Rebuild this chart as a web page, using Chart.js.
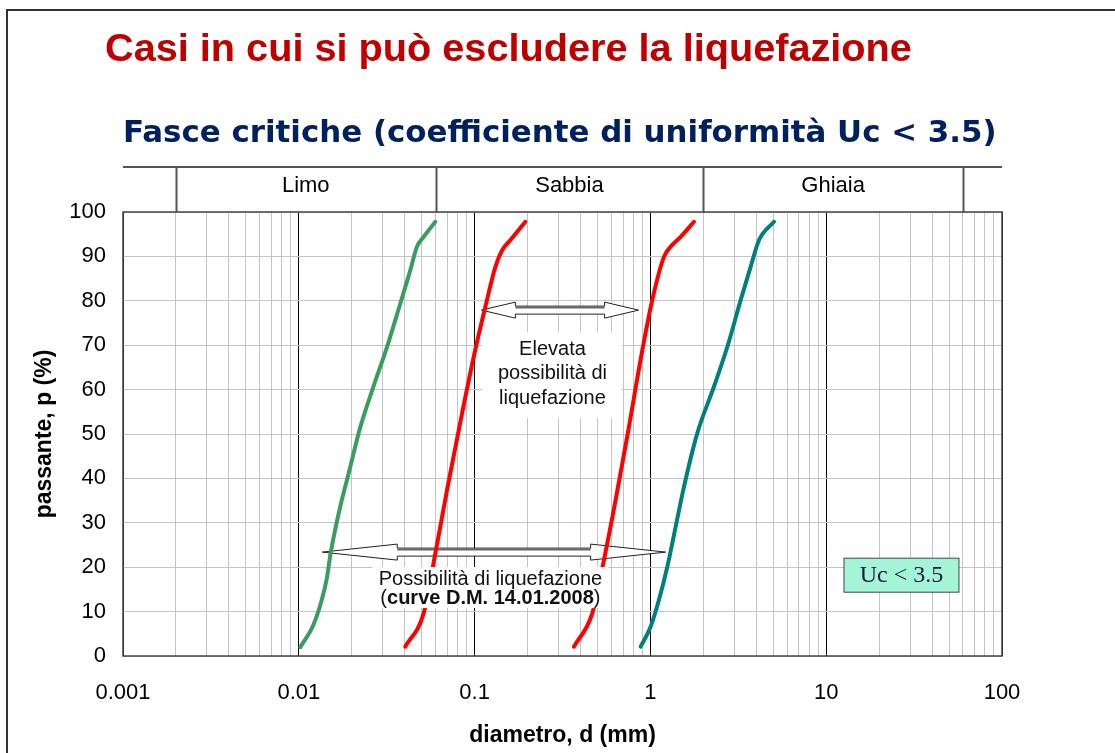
<!DOCTYPE html>
<html>
<head>
<meta charset="utf-8">
<script src="https://cdn.jsdelivr.net/npm/chart.js@4.4.0/dist/chart.umd.min.js"></script>
<style>
  html, body { margin: 0; padding: 0; background: #fff; }
  #wrap { width: 1115px; height: 753px; position: relative; }
</style>
</head>
<body>
<div id="wrap"><canvas id="grafico"></canvas></div>
<script>
// testi
const titleText = 'Casi in cui si può escludere la liquefazione';
const subtitleText = 'Fasce critiche (coefficiente di uniformità Uc < 3.5)';
const xAxisTitle = 'diametro, d (mm)';
const yAxisTitle = 'passante, p (%)';
const xTickLabels = ['0.001', '0.01', '0.1', '1', '10', '100'];
const xDecades = [0.001, 0.01, 0.1, 1, 10];
const xMultipliers = [1, 2, 3, 4, 5, 6, 7, 8, 9];

// fasce granulometriche (mm)
const bandNames = ['Limo', 'Sabbia', 'Ghiaia'];
const bandBounds = [0.002, 0.06, 2, 60];

// curve granulometriche: diametro (mm) / passante (%)
const limoD = [0.0102, 0.0121, 0.0135, 0.0145, 0.0151, 0.0161, 0.0172, 0.0192, 0.0224, 0.0266, 0.0318, 0.0378, 0.0431, 0.047, 0.0513, 0.0598];
const limoP = [2, 7, 12.6, 17.9, 22.7, 28.4, 33.6, 41.1, 51.6, 60.7, 69.7, 79.4, 86.9, 92.2, 94.4, 97.8];

const sabbiaFineD = [0.0403, 0.0513, 0.0598, 0.0697, 0.0849, 0.0989, 0.1152, 0.1314, 0.1434, 0.160, 0.1946];
const sabbiaFineP = [2.1, 9.6, 23.1, 37.4, 54.7, 67.4, 78.7, 87.7, 91.4, 93.7, 97.8];

const sabbiaGrossaD = [0.367, 0.467, 0.544, 0.634, 0.755, 0.879, 1.025, 1.194, 1.303, 1.486, 1.77];
const sabbiaGrossaP = [2.1, 9.6, 21.6, 35.1, 51.6, 66.7, 80.2, 89.9, 92.2, 94.4, 97.8];

const ghiaiaD = [0.880, 1.003, 1.118, 1.248, 1.392, 1.552, 1.849, 2.300, 2.742, 3.264, 3.72, 4.15, 5.05];
const ghiaiaP = [2.1, 6.6, 12.6, 20.1, 29.1, 38.1, 50.2, 60.7, 69.7, 80.2, 87.7, 93.7, 97.8];

const sansFont = '"Liberation Sans", Arial, sans-serif';

function toPoints(ds, ps) {
  return ds.map((d, i) => ({ x: d, y: ps[i] }));
}

function curve(label, ds, ps, color) {
  return {
    label: label,
    data: toPoints(ds, ps),
    borderColor: color,
    borderWidth: 4,
    borderCapStyle: 'round',
    borderJoinStyle: 'round',
    pointRadius: 0,
    cubicInterpolationMode: 'monotone',
    fill: false
  };
}

// scala il font finché il testo occupa la larghezza voluta
function fitFont(ctx, text, weight, family, nominal, width) {
  ctx.font = weight + ' ' + nominal + 'px ' + family;
  const size = nominal * width / ctx.measureText(text).width;
  return weight + ' ' + size.toFixed(2) + 'px ' + family;
}

function doubleArrow(ctx, x1, x2, y, headLen, headHalf, shaftHalf) {
  ctx.save();
  ctx.beginPath();
  ctx.moveTo(x1, y);
  ctx.lineTo(x1 + headLen, y - headHalf);
  ctx.lineTo(x1 + headLen, y - shaftHalf);
  ctx.lineTo(x2 - headLen, y - shaftHalf);
  ctx.lineTo(x2 - headLen, y - headHalf);
  ctx.lineTo(x2, y);
  ctx.lineTo(x2 - headLen, y + headHalf);
  ctx.lineTo(x2 - headLen, y + shaftHalf);
  ctx.lineTo(x1 + headLen, y + shaftHalf);
  ctx.lineTo(x1 + headLen, y + headHalf);
  ctx.closePath();
  ctx.fillStyle = '#fff';
  ctx.fill();
  ctx.strokeStyle = '#222';
  ctx.lineWidth = 1;
  ctx.stroke();
  // ombra sul gambo
  ctx.beginPath();
  ctx.moveTo(x1 + headLen, y - shaftHalf + 1.5);
  ctx.lineTo(x2 - headLen, y - shaftHalf + 1.5);
  ctx.strokeStyle = '#666';
  ctx.lineWidth = 2;
  ctx.stroke();
  ctx.restore();
}

const decor = {
  id: 'decor',
  beforeDraw(chart) {
    const { ctx, chartArea: area, scales: { x } } = chart;
    ctx.save();
    ctx.fillStyle = '#fff';
    ctx.fillRect(0, 0, chart.width, chart.height);

    // cornice della slide
    ctx.strokeStyle = '#333';
    ctx.lineWidth = 2;
    ctx.beginPath();
    ctx.moveTo(7, chart.height);
    ctx.lineTo(7, 10);
    ctx.lineTo(chart.width, 10);
    ctx.stroke();

    // titoli
    ctx.textAlign = 'left';
    ctx.textBaseline = 'alphabetic';
    ctx.fillStyle = '#c00000';
    ctx.font = fitFont(ctx, titleText, 'bold', sansFont, 40, 807);
    ctx.fillText(titleText, 105, 61);
    ctx.fillStyle = '#002060';
    ctx.font = fitFont(ctx, subtitleText, 'bold', '"DejaVu Sans", Verdana, sans-serif', 32, 874);
    ctx.fillText(subtitleText, 123, 142);

    // intestazione fasce
    const top = area.top - 45;
    ctx.strokeStyle = '#555';
    ctx.lineWidth = 2;
    ctx.beginPath();
    ctx.moveTo(area.left, top);
    ctx.lineTo(area.right, top);
    bandBounds.forEach(b => {
      const bx = Math.round(x.getPixelForValue(b)) + 0.5;
      ctx.moveTo(bx, top);
      ctx.lineTo(bx, area.top);
    });
    ctx.stroke();
    ctx.fillStyle = '#000';
    ctx.font = '22px ' + sansFont;
    ctx.textAlign = 'center';
    ctx.textBaseline = 'middle';
    bandNames.forEach((name, i) => {
      const cx = (x.getPixelForValue(bandBounds[i]) + x.getPixelForValue(bandBounds[i + 1])) / 2;
      ctx.fillText(name, cx, area.top - 26);
    });
    ctx.restore();
  },
  beforeDatasetsDraw(chart) {
    const { ctx, scales: { x, y } } = chart;
    doubleArrow(ctx, x.getPixelForValue(0.1093), x.getPixelForValue(0.8566), y.getPixelForValue(77.9), 34, 8, 4);
    doubleArrow(ctx, x.getPixelForValue(0.0136), x.getPixelForValue(1.221), y.getPixelForValue(23.4), 75, 8, 4);
  },
  afterDatasetsDraw(chart) {
    const { ctx, chartArea: area, scales: { x, y } } = chart;
    ctx.save();

    // Elevata possibilità di liquefazione
    let cx = x.getPixelForValue(0.2773);
    let cy = y.getPixelForValue(63.9);
    ctx.fillStyle = '#fff';
    ctx.fillRect(cx - 70, cy - 40, 139, 86);
    ctx.fillStyle = '#111';
    ctx.font = '20px ' + sansFont;
    ctx.textAlign = 'center';
    ctx.textBaseline = 'middle';
    ['Elevata', 'possibilità di', 'liquefazione'].forEach((t, i) => {
      ctx.fillText(t, cx, cy + 1.5 + (i - 1) * 24.5);
    });

    // Possibilità di liquefazione (curve D.M. 14.01.2008)
    cx = x.getPixelForValue(0.1230);
    cy = y.getPixelForValue(15.3);
    ctx.fillStyle = '#fff';
    ctx.fillRect(cx - 118, cy - 21, 236, 41);
    ctx.fillStyle = '#111';
    ctx.font = '20px ' + sansFont;
    ctx.fillText('Possibilità di liquefazione', cx, cy - 9);
    const parts = [['(', '20px '], ['curve D.M. 14.01.2008', 'bold 20px '], [')', '20px ']];
    let total = 0;
    parts.forEach(p => { ctx.font = p[1] + sansFont; total += ctx.measureText(p[0]).width; });
    let px = cx - total / 2;
    ctx.textAlign = 'left';
    parts.forEach(p => {
      ctx.font = p[1] + sansFont;
      ctx.fillText(p[0], px, cy + 10.5);
      px += ctx.measureText(p[0]).width;
    });

    // etichetta Uc < 3.5
    cx = x.getPixelForValue(26.8);
    cy = y.getPixelForValue(18.2);
    ctx.fillStyle = '#a4f4d8';
    ctx.fillRect(cx - 57.5, cy - 17, 115, 34);
    ctx.strokeStyle = '#444';
    ctx.lineWidth = 1;
    ctx.strokeRect(cx - 57.5, cy - 17, 115, 34);
    ctx.fillStyle = '#1a1a3a';
    ctx.font = '24px "Liberation Serif", "Times New Roman", serif';
    ctx.textAlign = 'center';
    ctx.fillText('Uc < 3.5', cx, cy + 1);

    // bordo dell'area del grafico
    ctx.strokeStyle = '#444';
    ctx.lineWidth = 1.5;
    ctx.strokeRect(area.left, area.top, area.right - area.left, area.bottom - area.top);
    ctx.restore();
  }
};

const ctx = document.getElementById('grafico').getContext('2d');
new Chart(ctx, {
  type: 'line',
  data: {
    datasets: [
      curve('Limo', limoD, limoP, '#3a9d5f'),
      curve('Sabbia fine', sabbiaFineD, sabbiaFineP, '#ff0000'),
      curve('Sabbia grossa', sabbiaGrossaD, sabbiaGrossaP, '#ff0000'),
      curve('Ghiaia', ghiaiaD, ghiaiaP, '#00807a')
    ]
  },
  options: {
    responsive: true,
    maintainAspectRatio: false,
    animation: false,
    layout: { padding: { left: 0, top: 212, right: 113, bottom: 0 } },
    plugins: {
      legend: { display: false },
      tooltip: { enabled: false }
    },
    scales: {
      x: {
        type: 'logarithmic',
        min: 0.001,
        max: 100,
        afterFit(scale) { scale.height = 97; },
        afterBuildTicks(scale) {
          const ticks = [];
          xDecades.forEach(dec => {
            xMultipliers.forEach(m => ticks.push({ value: dec * m, major: m === 1 }));
          });
          ticks.push({ value: 100, major: true });
          scale.ticks = ticks;
        },
        border: { display: false },
        grid: {
          color: c => (c.tick && c.tick.major) ? '#000' : '#c4c4c4',
          lineWidth: 1,
          drawTicks: false
        },
        ticks: {
          autoSkip: false,
          maxRotation: 0,
          padding: 24,
          color: '#000',
          font: { family: sansFont, size: 22 },
          callback: (v, i, ticks) => ticks[i].major ? xTickLabels[Math.round(Math.log10(v)) + 3] : ''
        },
        title: {
          display: true,
          text: xAxisTitle,
          color: '#000',
          font: { family: sansFont, size: 23, weight: 'bold' },
          padding: { top: 0, bottom: 4 }
        }
      },
      y: {
        min: 0,
        max: 100,
        afterFit(scale) { scale.width = 123; },
        border: { display: false },
        grid: { color: '#c4c4c4', lineWidth: 1, drawTicks: false },
        ticks: {
          stepSize: 10,
          padding: 17,
          color: '#000',
          font: { family: sansFont, size: 22 }
        },
        title: {
          display: true,
          text: yAxisTitle,
          color: '#000',
          font: { family: sansFont, size: 23, weight: 'bold' },
          padding: { top: 31, bottom: 0 }
        }
      }
    }
  },
  plugins: [decor]
});
</script>
</body>
</html>
